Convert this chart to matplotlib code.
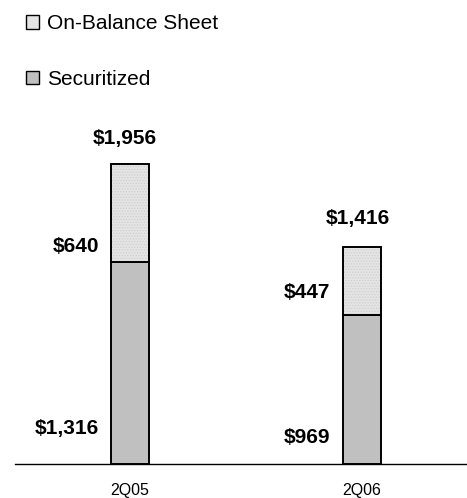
import matplotlib
matplotlib.use("Agg")
import matplotlib.pyplot as plt
from matplotlib.patches import Patch
import numpy as np

plt.rcParams['font.family'] = ['Liberation Sans', 'DejaVu Sans']
plt.rcParams['hatch.linewidth'] = 0.6

categories = ["2Q05", "2Q06"]
securitized = [1316, 969]
on_balance = [640, 447]
totals = [1956, 1416]
sec_labels = ["$1,316", "$969"]
onb_labels = ["$640", "$447"]
tot_labels = ["$1,956", "$1,416"]

sec_color = "#C0C0C0"
onb_color = "#E4E4E4"
onb_hatch_color = "#CFCFCF"

fig = plt.figure(figsize=(4.67, 4.98), dpi=100)
ax = fig.add_axes([15/467, 1-464/498, 1-15/467, 307/498])

x = np.arange(len(categories))
w = 0.166
ax.bar(x, securitized, width=w, color=sec_color, edgecolor="black", linewidth=1.4, zorder=2)
ax.bar(x, on_balance, width=w, bottom=securitized, color=onb_color, edgecolor=onb_hatch_color,
       linewidth=0, hatch="......", zorder=2)
ax.bar(x, on_balance, width=w, bottom=securitized, fill=False, edgecolor="black",
       linewidth=1.4, zorder=3)

ax.set_xlim(-0.496, 1.454)
ax.set_ylim(0, 2000)

sec_off = [36, 27]
onb_off = [15, 23]
tot_off = [(-5, 25), (-4, 28)]
for i in range(len(categories)):
    left = x[i] - w/2
    ax.annotate(sec_labels[i], (left, 0), xytext=(-12, sec_off[i]), textcoords="offset pixels",
                ha="right", va="center", fontsize=15, fontweight="bold")
    ax.annotate(onb_labels[i], (left, securitized[i]), xytext=(-12, onb_off[i]), textcoords="offset pixels",
                ha="right", va="center", fontsize=15, fontweight="bold")
    ax.annotate(tot_labels[i], (x[i], totals[i]), xytext=tot_off[i], textcoords="offset pixels",
                ha="center", va="center", fontsize=15, fontweight="bold")

for s in ["top", "right", "left"]:
    ax.spines[s].set_visible(False)
ax.spines["bottom"].set_linewidth(1.0)
ax.set_yticks([])
ax.set_xticks(x)
ax.set_xticklabels(categories, fontsize=11.5)
ax.tick_params(axis="x", length=0, pad=14)

handles = [Patch(facecolor=onb_color, edgecolor="black", linewidth=1.0, label="On-Balance Sheet"),
           Patch(facecolor=sec_color, edgecolor="black", linewidth=1.0, label="Securitized")]
fig.legend(handles=handles, loc="upper left", bbox_to_anchor=(18/467, 1-6/498), frameon=False,
           fontsize=15, handlelength=0.6, handleheight=0.6, handletextpad=0.4, labelspacing=1.75,
           borderaxespad=0)

fig.savefig("out.png", dpi=100)
